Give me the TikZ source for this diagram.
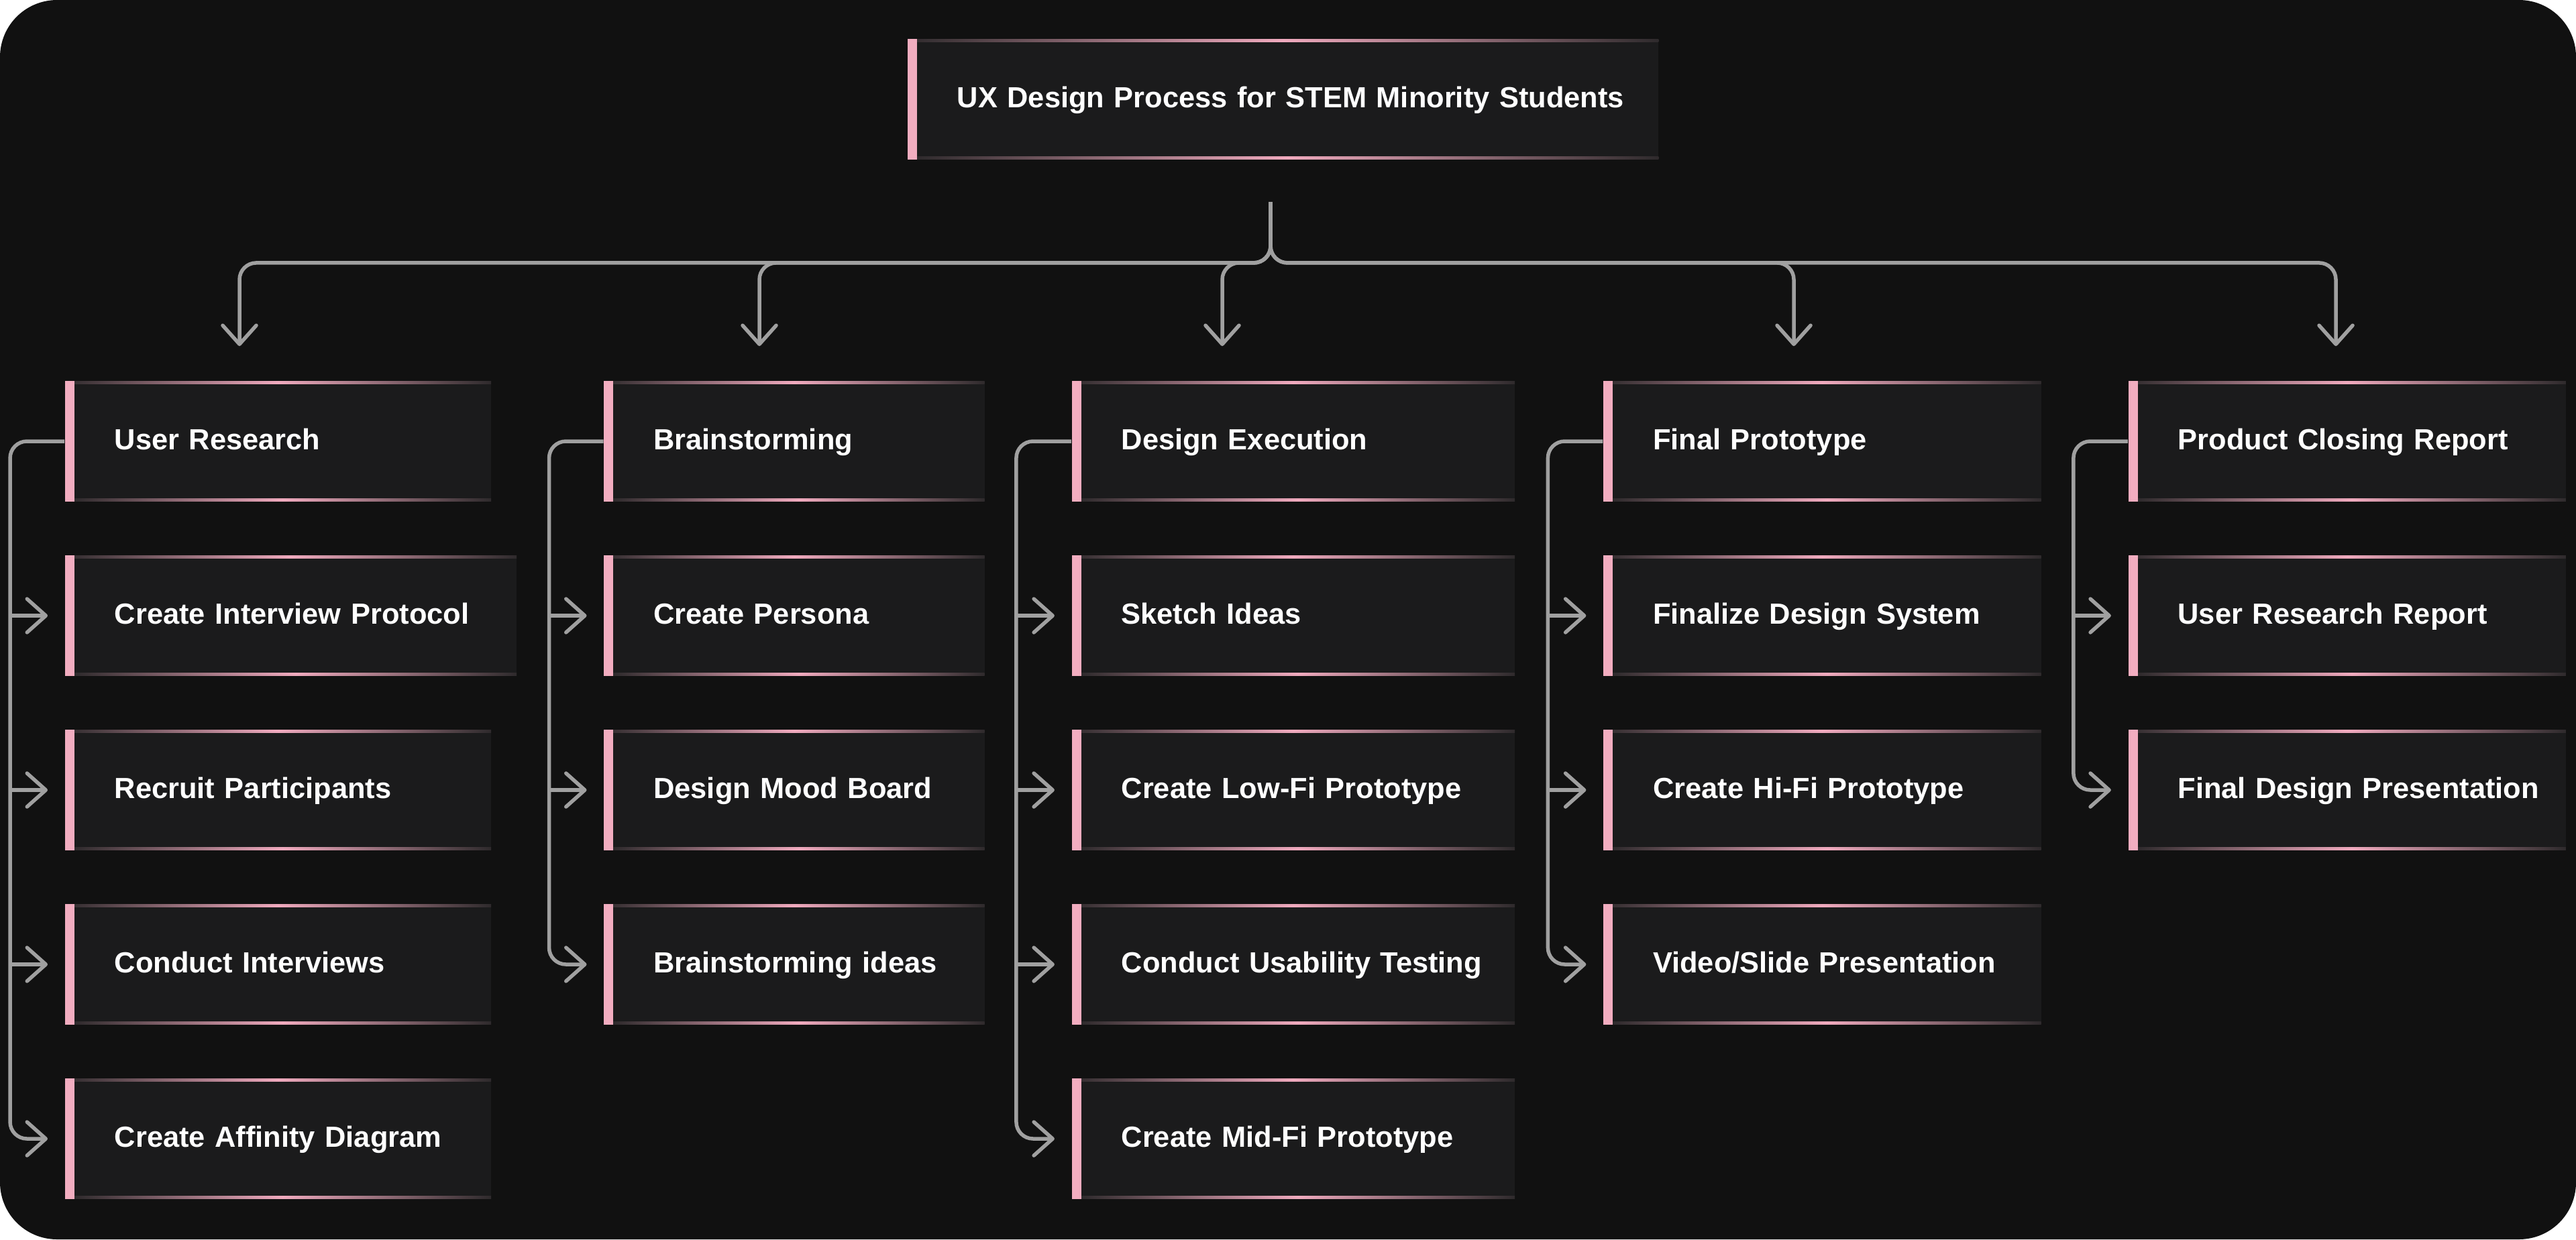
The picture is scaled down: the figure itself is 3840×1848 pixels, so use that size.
\documentclass[tikz,border=0pt]{standalone}
\usepackage{fontspec}
\setmainfont{Liberation Sans}
\usepackage{tikz}
\usetikzlibrary{arrows.meta, positioning}
\definecolor{pagebg}{HTML}{111111}
\definecolor{cardbg}{HTML}{1B1B1C}
\definecolor{barpink}{HTML}{F2ADC0}
\definecolor{edgepink}{HTML}{F0AABE}
\definecolor{edgedark}{HTML}{2E2A2C}
\definecolor{linegray}{HTML}{A0A0A0}
\tikzset{
    card/.style={fill=cardbg, text=white, anchor=west, text width=#1, align=left,
        inner xsep=0pt, inner ysep=0pt, minimum height=1.79cm,
        text height=0.35cm, text depth=0.10cm,
        font=\fontsize{12.35}{15}\selectfont\bfseries,
        execute at begin node={\hspace*{0.74cm}},
        path picture={
            \shade[left color=edgedark, right color=edgedark, middle color=edgepink]
                ([xshift=0.14cm]path picture bounding box.north west) rectangle ([yshift=-0.04cm]path picture bounding box.north east);
            \shade[left color=edgedark, right color=edgedark, middle color=edgepink]
                ([xshift=0.14cm]path picture bounding box.south west) rectangle ([yshift=0.04cm]path picture bounding box.south east);
            \fill[barpink](path picture bounding box.north west) rectangle ([xshift=0.14cm]path picture bounding box.south west);
        }},
    card/.default=6.35cm,
    conn/.style={draw=linegray, line width=0.055cm, rounded corners=0.25cm},
    arr/.style={conn, -{Straight Barb[length=0.28cm, width=0.5cm, round]}},
    sidearr/.style={arr, shorten >=0.25cm},
}
\begin{document}
\begin{tikzpicture}[x=0.01cm, y=-0.01cm]
\fill[white](0,0) rectangle (3840,1848);
\fill[pagebg, rounded corners=0.85cm](0,0) rectangle (3840,1848);

\node[card=11.19cm] (top) at (1352,148){UX Design Process for STEM Minority Students};

\begin{scope}[xshift=0.96cm]
    \node[card] (research) at (0,658){User Research};
    \node[card=6.73cm] (protocol) at (0,918){Create Interview Protocol};
    \node[card] (recruit) at (0,1178){Recruit Participants};
    \node[card] (interviews) at (0,1438){Conduct Interviews};
    \node[card] (affinity) at (0,1698){Create Affinity Diagram};
    \coordinate (spine1) at (-81,658);
\end{scope}
\begin{scope}[xshift=8.99cm]
    \node[card=5.67cm] (brainstorm) at (0,658){Brainstorming};
    \node[card=5.67cm] (persona) at (0,918){Create Persona};
    \node[card=5.67cm] (mood) at (0,1178){Design Mood Board};
    \node[card=5.67cm] (ideas) at (0,1438){Brainstorming ideas};
    \coordinate (spine2) at (-81,658);
\end{scope}
\begin{scope}[xshift=15.96cm]
    \node[card=6.60cm] (execution) at (0,658){Design Execution};
    \node[card=6.60cm] (sketch) at (0,918){Sketch Ideas};
    \node[card=6.60cm] (lowfi) at (0,1178){Create Low-Fi Prototype};
    \node[card=6.60cm] (usability) at (0,1438){Conduct Usability Testing};
    \node[card=6.60cm] (midfi) at (0,1698){Create Mid-Fi Prototype};
    \coordinate (spine3) at (-82,658);
\end{scope}
\begin{scope}[xshift=23.88cm]
    \node[card=6.52cm] (final) at (0,658){Final Prototype};
    \node[card=6.52cm] (system) at (0,918){Finalize Design System};
    \node[card=6.52cm] (hifi) at (0,1178){Create Hi-Fi Prototype};
    \node[card=6.52cm] (video) at (0,1438){Video/Slide Presentation};
    \coordinate (spine4) at (-82,658);
\end{scope}
\begin{scope}[xshift=31.70cm]
    \node[card=6.52cm] (closing) at (0,658){Product Closing Report};
    \node[card=6.52cm] (report) at (0,918){User Research Report};
    \node[card=6.52cm] (presentation) at (0,1178){Final Design Presentation};
    \coordinate (spine5) at (-81,658);
\end{scope}

\coordinate (root) at (1894,301);
\coordinate (down1) at (357,516);
\coordinate (down2) at (1132,516);
\coordinate (down3) at (1822,516);
\coordinate (down4) at (2674,516);
\coordinate (down5) at (3482,516);
\draw[arr](root) |- ([yshift=1.24cm]down1) -- (down1);
\draw[arr](root) |- ([yshift=1.24cm]down2) -- (down2);
\draw[arr](root) |- ([yshift=1.24cm]down3) -- (down3);
\draw[arr](root) |- ([yshift=1.24cm]down4) -- (down4);
\draw[arr](root) |- ([yshift=1.24cm]down5) -- (down5);

\draw[sidearr](research.west) -- (spine1) |- (affinity.west);
\draw[sidearr](spine1 |- protocol.west) -- (protocol.west);
\draw[sidearr](spine1 |- recruit.west) -- (recruit.west);
\draw[sidearr](spine1 |- interviews.west) -- (interviews.west);

\draw[sidearr](brainstorm.west) -- (spine2) |- (ideas.west);
\draw[sidearr](spine2 |- persona.west) -- (persona.west);
\draw[sidearr](spine2 |- mood.west) -- (mood.west);

\draw[sidearr](execution.west) -- (spine3) |- (midfi.west);
\draw[sidearr](spine3 |- sketch.west) -- (sketch.west);
\draw[sidearr](spine3 |- lowfi.west) -- (lowfi.west);
\draw[sidearr](spine3 |- usability.west) -- (usability.west);

\draw[sidearr](final.west) -- (spine4) |- (video.west);
\draw[sidearr](spine4 |- system.west) -- (system.west);
\draw[sidearr](spine4 |- hifi.west) -- (hifi.west);

\draw[sidearr](closing.west) -- (spine5) |- (presentation.west);
\draw[sidearr](spine5 |- report.west) -- (report.west);
\end{tikzpicture}
\end{document}
